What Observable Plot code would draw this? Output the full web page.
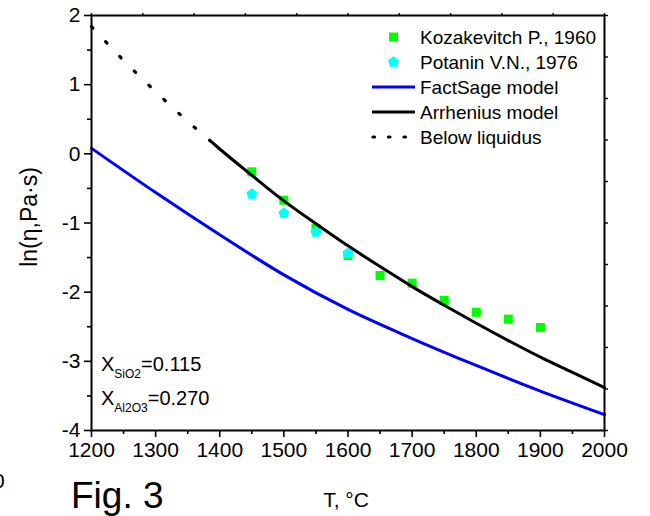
<!DOCTYPE html>
<html>
<head>
<meta charset="utf-8">
<script src="https://cdn.jsdelivr.net/npm/d3@7"></script>
<script src="https://cdn.jsdelivr.net/npm/@observablehq/plot@0.6"></script>
<style>
  html, body { margin: 0; padding: 0; background: white; }
  #wrap { position: relative; width: 650px; height: 516px; overflow: hidden; font-family: "Liberation Sans", Arial, sans-serif; }
  #overlay { position: absolute; left: 0; top: 0; pointer-events: none; }
</style>
</head>
<body>
<div id="wrap"></div>
<script>
// ---- data ----
const kozT  = [1450, 1500, 1550, 1600, 1650, 1700, 1750, 1800, 1850, 1900];
const kozLn = [-0.26, -0.67, -1.08, -1.47, -1.76, -1.87, -2.12, -2.29, -2.39, -2.51];

const potT  = [1450, 1500, 1550, 1600];
const potLn = [-0.58, -0.86, -1.13, -1.44];

const factT  = [1200, 1300, 1400, 1500, 1600, 1700, 1800, 1900, 2000];
const factLn = [0.08, -0.56, -1.17, -1.75, -2.25, -2.67, -3.06, -3.43, -3.77];

const arrT  = [1385, 1400, 1450, 1500, 1550, 1600, 1650, 1700, 1750, 1800, 1850, 1900, 1950, 2000];
const arrLn = [0.19, 0.07, -0.31, -0.68, -1.01, -1.33, -1.63, -1.92, -2.19, -2.45, -2.70, -2.94, -3.16, -3.38];

const belowT  = [1200, 1250, 1300, 1350, 1385];
const belowLn = [1.84, 1.35, 0.90, 0.47, 0.19];

const xTicks = [1200, 1300, 1400, 1500, 1600, 1700, 1800, 1900, 2000];
const xMinor = [1250, 1350, 1450, 1550, 1650, 1750, 1850, 1950];
const yTicks = [-4, -3, -2, -1, 0, 1, 2];
const yMinor = [-3.5, -2.5, -1.5, -0.5, 0.5, 1.5];
const topTicks = [1200, 1280, 1360, 1440, 1520, 1600, 1680, 1760, 1840, 1920, 2000];
const rightTicks = [-4, -3.4, -2.8, -2.2, -1.6, -1, -0.4, 0.2, 0.8, 1.4, 2];

const legendLabels = ["Kozakevitch P., 1960", "Potanin V.N., 1976", "FactSage model", "Arrhenius model", "Below liquidus"];

// ---- build rows ----
const rows = (T, V) => T.map((t, i) => ({T: t, v: V[i]}));
const kozRows = rows(kozT, kozLn);
const potRows = rows(potT, potLn);
const factRows = rows(factT, factLn);
const arrRows = rows(arrT, arrLn);
const belowRows = rows(belowT, belowLn);

const pentagon = {
  draw(context, size) {
    const R = Math.sqrt(size / Math.PI);
    for (let k = 0; k < 5; k++) {
      const a = -Math.PI / 2 + k * 2 * Math.PI / 5;
      const px = R * Math.cos(a), py = R * Math.sin(a);
      if (k === 0) context.moveTo(px, py); else context.lineTo(px, py);
    }
    context.closePath();
  }
};

const blank = () => "";

const chart = Plot.plot({
  width: 650,
  height: 516,
  marginLeft: 91,
  marginRight: 46,
  marginTop: 15,
  marginBottom: 86,
  x: {domain: [1200, 2000], label: null, axis: null},
  y: {domain: [-4, 2], label: null, axis: null},
  style: {fontFamily: "'Liberation Sans', Arial, sans-serif", fontSize: "21px", color: "black", background: "white"},
  marks: [
    Plot.line(factRows, {x: "T", y: "v", stroke: "#0000ff", strokeWidth: 3, curve: "monotone-x"}),
    Plot.dot(kozRows, {x: "T", y: "v", symbol: "square", r: 5.1, fill: "#00ff00", stroke: "none"}),
    Plot.dot(potRows, {x: "T", y: "v", symbol: pentagon, r: 5.8, fill: "#00ffff", stroke: "none"}),
    Plot.line(arrRows, {x: "T", y: "v", stroke: "black", strokeWidth: 3, curve: "monotone-x"}),
    Plot.line(belowRows, {x: "T", y: "v", stroke: "black", strokeWidth: 3.2, curve: "monotone-x", strokeDasharray: "2,18.5", strokeLinecap: "round"}),
    Plot.axisX(xTicks, {anchor: "bottom", tickSize: 7, tickPadding: 5, strokeWidth: 1.6, tickFormat: d => String(d), label: null}),
    Plot.axisX(xMinor, {anchor: "bottom", tickSize: 4, strokeWidth: 1.6, tickFormat: blank, label: null}),
    Plot.axisY(yTicks, {anchor: "left", tickSize: 7, tickPadding: 4, strokeWidth: 1.6, tickFormat: d => String(d), label: null}),
    Plot.axisY(yMinor, {anchor: "left", tickSize: 4, strokeWidth: 1.6, tickFormat: blank, label: null}),
    Plot.axisX(topTicks, {anchor: "top", tickSize: 3, strokeWidth: 1.4, tickFormat: blank, label: null}),
    Plot.axisY(rightTicks, {anchor: "right", tickSize: 3, strokeWidth: 1.4, tickFormat: blank, label: null}),
    Plot.frame({stroke: "black", strokeWidth: 2})
  ]
});

const wrap = document.getElementById("wrap");
wrap.appendChild(chart);

// ---- overlay: legend, annotations, titles ----
const svg = d3.select(wrap).append("svg")
  .attr("id", "overlay")
  .attr("width", 650).attr("height", 516)
  .style("font-family", "'Liberation Sans', Arial, sans-serif");

const lg = svg.append("g").attr("transform", "translate(372,37)");
const rowH = 25;
legendLabels.forEach((lab, i) => {
  const g = lg.append("g").attr("transform", `translate(0,${i * rowH})`);
  if (i === 0) g.append("rect").attr("x", 17).attr("y", -4.5).attr("width", 9).attr("height", 9).attr("fill", "#00ff00");
  if (i === 1) g.append("path").attr("transform", "translate(21.5,0)")
    .attr("d", d3.symbol(pentagon, Math.PI * 5.8 * 5.8)()).attr("fill", "#00ffff");
  if (i === 2) g.append("line").attr("x1", 0).attr("x2", 43).attr("stroke", "#0000ff").attr("stroke-width", 3);
  if (i === 3) g.append("line").attr("x1", 0).attr("x2", 43).attr("stroke", "black").attr("stroke-width", 3);
  if (i === 4) g.append("line").attr("x1", 1).attr("x2", 43).attr("stroke", "black").attr("stroke-width", 3.2)
    .attr("stroke-dasharray", "1.5,14").attr("stroke-linecap", "round");
  g.append("text").attr("x", 48).attr("y", 0).attr("dy", "0.36em")
    .attr("font-size", 19).text(lab);
});

function compText(x, y, sub, rest) {
  const t = svg.append("text").attr("x", x).attr("y", y).attr("font-size", 20);
  t.append("tspan").text("X");
  t.append("tspan").attr("font-size", 12).attr("dy", 7).text(sub);
  t.append("tspan").attr("dy", -7).text(rest);
}
compText(101, 371, "SiO2", "=0.115");
compText(101, 405, "Al2O3", "=0.270");

svg.append("text").attr("x", 71).attr("y", 508).attr("font-size", 37).text("Fig. 3");
svg.append("text").attr("x", 346).attr("y", 507).attr("font-size", 21).attr("text-anchor", "middle").text("T, °C");
svg.append("text").attr("transform", "translate(37,217) rotate(-90)").attr("text-anchor", "middle")
  .attr("font-size", 23).text("ln(η,Pa·s)");
svg.append("text").attr("x", -7).attr("y", 488).attr("font-size", 21).text("0");
</script>
</body>
</html>
